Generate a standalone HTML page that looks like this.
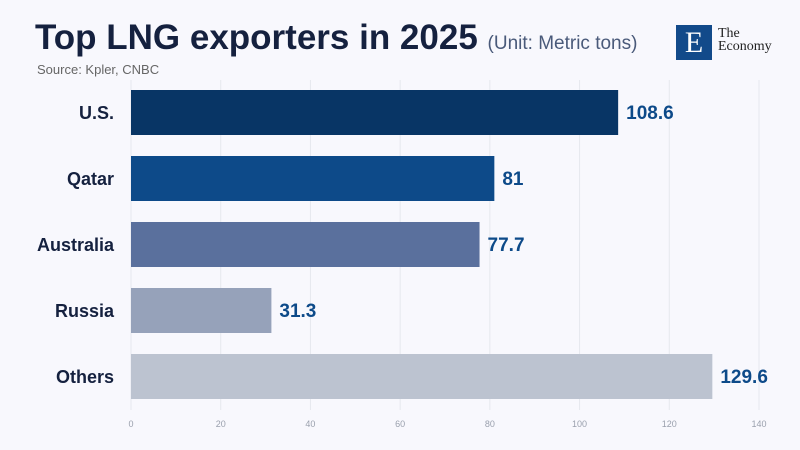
<!DOCTYPE html>
<html><head><meta charset="utf-8"><style>
body{margin:0;width:800px;height:450px;background:#f8f8fd;font-family:"Liberation Sans",sans-serif;overflow:hidden;position:relative}
</style></head><body>
<div style="position:absolute;left:35px;top:18px;font-size:35px;font-weight:bold;color:#15213f;white-space:nowrap">Top LNG exporters in 2025 <span style="font-size:19px;font-weight:normal;color:#4a5a7a">(Unit: Metric tons)</span></div>
<div style="position:absolute;left:37px;top:62px;font-size:13px;color:#666">Source: Kpler, CNBC</div>
<div style="position:absolute;left:676px;top:25px;width:36px;height:35px;background:#124a8a;color:#fff;font-family:'Liberation Serif',serif;font-size:30px;text-align:center;line-height:35px">E</div>
<div style="position:absolute;left:718px;top:27px;font-family:'Liberation Serif',serif;font-size:14px;line-height:13px;color:#222">The<br>Economy</div>
<svg id="chart" width="800" height="450" style="position:absolute;left:0;top:0"></svg>
<script>
const categories=["U.S.","Qatar","Australia","Russia","Others"];
const values=[108.6,81,77.7,31.3,129.6];
const colors=["#083565","#0d4a89","#5a709d","#96a2ba","#bcc3d0"];
const ticks=[0,20,40,60,80,100,120,140];
const svg=document.getElementById('chart');
const NS='http://www.w3.org/2000/svg';
const x=v=>131+v*(628/140);
const y=i=>90+i*66;
function mk(t,a){const e=document.createElementNS(NS,t);for(const k in a)e.setAttribute(k,a[k]);svg.appendChild(e);return e;}
ticks.forEach(t=>{
 const l=mk('line',{x1:x(t),x2:x(t),y1:80,y2:410,stroke:'#e6e8ee','stroke-width':1});
 
 
 const tx=mk('text',{x:x(t),y:427,'text-anchor':'middle','font-size':9,fill:'#9aa0ad'});
 tx.textContent=t;
 
 
});
categories.forEach((c,i)=>{
 const r=mk('rect',{x:x(0),y:y(i),width:x(values[i])-x(0),height:45,fill:colors[i]});
 
 
 const lb=mk('text',{x:114,y:y(i)+29,'text-anchor':'end','font-size':18,'font-weight':'bold',fill:'#15213f'});
 lb.textContent=c;
 
 
 const v=mk('text',{x:x(values[i])+8,y:y(i)+29,'font-size':19,'font-weight':'bold',fill:'#0d4a89'});
 v.textContent=values[i];
 
 
});
</script>
</body></html>
